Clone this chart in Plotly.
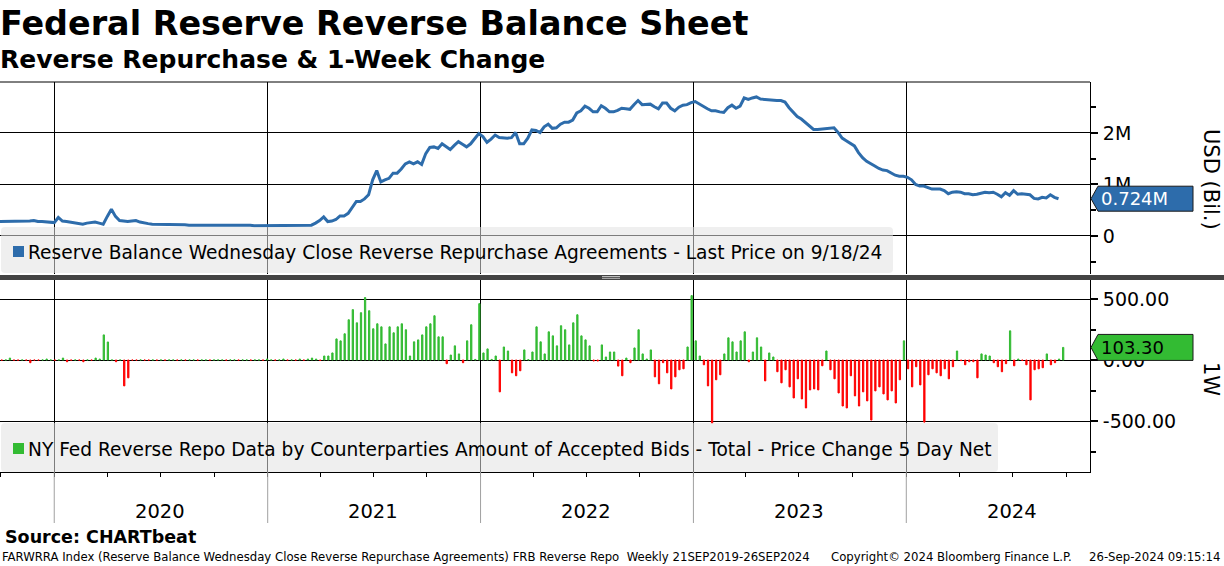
import plotly.graph_objects as go
import pandas as pd

# ---------------- data ----------------
line_dates = pd.date_range("2019-09-25", periods=261, freq="7D")
bar_dates = pd.date_range("2019-10-03", periods=261, freq="7D")

# Reserve balance reverse repo (millions of USD bil. -> "M")
line_vals = [
    0.28, 0.28, 0.29, 0.29, 0.28, 0.28, 0.28, 0.29, 0.29, 0.30,
    0.28, 0.28, 0.27, 0.27, 0.26, 0.36, 0.29, 0.28, 0.27, 0.26,
    0.25, 0.23, 0.25, 0.26, 0.27, 0.25, 0.23, 0.38, 0.52, 0.38,
    0.30, 0.29, 0.28, 0.29, 0.30, 0.27, 0.25, 0.24, 0.23, 0.23,
    0.23, 0.23, 0.22, 0.23, 0.23, 0.22, 0.22, 0.21, 0.21, 0.21,
    0.21, 0.21, 0.21, 0.21, 0.21, 0.22, 0.21, 0.21, 0.22, 0.21,
    0.21, 0.22, 0.21, 0.20, 0.20, 0.21, 0.21, 0.21, 0.21, 0.21,
    0.21, 0.21, 0.21, 0.21, 0.21, 0.21, 0.21, 0.21, 0.25, 0.30,
    0.37, 0.28, 0.29, 0.32, 0.39, 0.39, 0.44, 0.55, 0.67, 0.67,
    0.72, 0.80, 1.09, 1.27, 1.05, 1.09, 1.12, 1.22, 1.22, 1.30,
    1.40, 1.44, 1.40, 1.44, 1.39, 1.60, 1.72, 1.73, 1.70, 1.79,
    1.73, 1.68, 1.76, 1.83, 1.78, 1.73, 1.79, 1.90, 1.99, 1.93,
    1.82, 1.88, 1.96, 1.91, 1.90, 1.90, 1.91, 2.01, 1.79, 1.79,
    1.90, 2.06, 2.05, 2.01, 2.12, 2.17, 2.09, 2.10, 2.17, 2.21,
    2.21, 2.25, 2.39, 2.43, 2.52, 2.48, 2.41, 2.41, 2.53, 2.48,
    2.41, 2.41, 2.44, 2.48, 2.47, 2.46, 2.55, 2.63, 2.55, 2.56,
    2.56, 2.51, 2.47, 2.58, 2.58, 2.48, 2.43, 2.50, 2.54, 2.55,
    2.59, 2.61, 2.56, 2.52, 2.47, 2.43, 2.43, 2.41, 2.40, 2.49,
    2.54, 2.48, 2.52, 2.68, 2.65, 2.68, 2.70, 2.66, 2.65, 2.64,
    2.64, 2.63, 2.63, 2.60, 2.49, 2.40, 2.32, 2.27, 2.20, 2.13,
    2.07, 2.07, 2.08, 2.09, 2.10, 2.10, 2.01, 1.90, 1.85, 1.80,
    1.75, 1.62, 1.52, 1.45, 1.41, 1.36, 1.31, 1.28, 1.27, 1.23,
    1.18, 1.16, 1.16, 1.14, 1.09, 1.00, 0.97, 0.97, 0.94, 0.91,
    0.91, 0.91, 0.88, 0.82, 0.85, 0.86, 0.85, 0.82, 0.82, 0.80,
    0.81, 0.83, 0.85, 0.84, 0.85, 0.81, 0.76, 0.84, 0.79, 0.88,
    0.81, 0.82, 0.81, 0.80, 0.73, 0.72, 0.75, 0.74, 0.80, 0.75, 0.724,
]

# NY Fed reverse repo accepted bids, 5 day net change
bar_vals = [
    -1, 1, 16, -1, -1, 1, -1, -22, -1, -1,
    1, 8, 1, -1, 1, 16, -14, -1, 1, -1,
    -14, 1, -1, 16, 8, 206, 148, 1, -14, 1,
    -212, -146, -1, -1, 1, -1, -1, 1, -1, 1,
    -1, 1, 1, -1, 1, -1, 1, 1, -1, 1,
    1, -1, 1, 1, 1, -1, 1, 1, -1, 1,
    1, -1, 1, 1, -1, 8, 1, -1, 1, 8,
    -1, 1, -1, 8, -1, 8, 16, 8, -3, 33,
    33, 58, 173, 157, 215, 330, 413, 305, 388, 512,
    404, 256, 297, 272, 132, 272, 223, 272, 297, 248,
    33, 149, 165, 206, 272, 297, 363, 190, 190, -30,
    41, 116, 50, -22, 157, 289, 5, 462, 58, 91,
    5, 33, -261, 107, 74, -105, -129, -88, 83, 3,
    66, 272, 149, 50, 231, 198, 116, 281, 248, 124,
    305, 371, 198, 165, 116, -8, -8, 124, 25, 66,
    66, -50, -129, 16, -22, 99, 248, 50, 8, 83,
    -138, -195, -22, -105, -237, -138, -80, -72, 107, 528,
    157, 33, -39, -212, -517, -162, -121, 50, 182, 149,
    66, 157, 231, -14, 66, 182, 107, -171, 58, 25,
    -96, -187, -80, -220, -311, -154, -319, -393, -245, -237,
    -245, -47, 74, -80, -154, -270, -377, -393, -129, -294,
    -377, -261, -335, -492, -253, -220, -278, -327, -253, -352,
    -162, 157, -72, -220, -55, -204, -509, -121, -72, -105,
    -129, -72, -154, -55, 74, -5, -39, -14, -14, -146,
    50, 41, 33, -22, -55, -96, -30, 239, -47, 8,
    -3, -39, -327, -80, -72, -63, 50, -39, -22, 8, 103.3,
]

year_labels = ["2020", "2021", "2022", "2023", "2024"]
year_starts = ["2020-01-01", "2021-01-01", "2022-01-01", "2023-01-01", "2024-01-01"]
year_mids = ["2020-07-01", "2021-07-01", "2022-07-01", "2023-07-01", "2024-07-01"]

top_tickvals = [0, 1, 2]
top_ticktext = ["0", "1M", "2M"]
bot_tickvals = [-500, 0, 500]
bot_ticktext = ["-500.00", "0.00", "500.00"]

last_line = line_vals[-1]
last_bar = bar_vals[-1]

# ---------------- style ----------------
W, H = 1224, 566
L, R, T, B = 0, 134, 82, 94
PW, PH = W - L - R, H - T - B
BLUE = "#2d6cab"
GREEN = "#33bb33"
RED = "#ff0000"
FONT = "DejaVu Sans"


def px(x):
    return (x - L) / PW


def py(y):
    return (H - B - y) / PH


def rrect(x0, y0, x1, y1, r=4):
    rx, ry = r / PW, r / PH
    X0, X1 = px(x0), px(x1)
    Y0, Y1 = py(y1), py(y0)  # bottom, top
    return (f"M {X0+rx},{Y0} L {X1-rx},{Y0} Q {X1},{Y0} {X1},{Y0+ry} "
            f"L {X1},{Y1-ry} Q {X1},{Y1} {X1-rx},{Y1} L {X0+rx},{Y1} "
            f"Q {X0},{Y1} {X0},{Y1-ry} L {X0},{Y0+ry} Q {X0},{Y0} {X0+rx},{Y0} Z")


bar_colors = [GREEN if v >= 0 else RED for v in bar_vals]

fig = go.Figure()
fig.add_trace(go.Scatter(
    x=line_dates, y=line_vals, mode="lines", xaxis="x", yaxis="y",
    line=dict(color=BLUE, width=3), hoverinfo="skip"))
fig.add_trace(go.Bar(
    x=bar_dates, y=bar_vals, xaxis="x2", yaxis="y2", width=1.9e8,
    marker=dict(color=bar_colors, line=dict(color=bar_colors, width=1)),
    hoverinfo="skip"))

xrange = ["2019-09-30", "2024-11-11"]
top_dom = [py(274), 1]
bot_dom = [0, py(280)]

common_x = dict(range=xrange, type="date", showgrid=True, gridcolor="black",
                gridwidth=1, dtick="M12", tick0="2020-01-01",
                showticklabels=False, zeroline=False)

fig.update_layout(
    width=W, height=H,
    margin=dict(l=L, r=R, t=T, b=B),
    paper_bgcolor="white", plot_bgcolor="white",
    showlegend=False,
    font=dict(family=FONT, color="black"),
    xaxis=dict(domain=[0, 1], anchor="y", ticks="", **common_x),
    xaxis2=dict(domain=[0, 1], anchor="y2", ticks="outside", ticklen=4,
                tickcolor="black", showline=True, linecolor="black", linewidth=1,
                minor=dict(dtick="M3", ticks="outside", ticklen=4, tickcolor="black"),
                **common_x),
    yaxis=dict(domain=top_dom, anchor="x", side="right", range=[-0.738, 2.99],
               tickvals=top_tickvals, ticktext=top_ticktext,
               showgrid=True, gridcolor="black", gridwidth=1, zeroline=False,
               showline=True, linecolor="black", linewidth=1,
               ticks="outside", ticklen=7, tickwidth=2, tickcolor="black",
               ticklabelstandoff=1,
               minor=dict(tickvals=[-0.5, 0.5, 1.5, 2.5], ticks="outside",
                          ticklen=5, tickcolor="black", showgrid=False),
               tickfont=dict(size=19, family=FONT, color="black")),
    yaxis2=dict(domain=bot_dom, anchor="x2", side="right", range=[-918, 656],
                tickvals=bot_tickvals, ticktext=bot_ticktext,
                showgrid=True, gridcolor="black", gridwidth=1, zeroline=False,
                showline=True, linecolor="black", linewidth=1,
                ticks="outside", ticklen=7, tickwidth=2, tickcolor="black",
                ticklabelstandoff=1,
                minor=dict(tickvals=[-750, -250, 250], ticks="outside",
                           ticklen=5, tickcolor="black", showgrid=False),
                tickfont=dict(size=19, family=FONT, color="black")),
)

shapes = []
# top border of the chart
shapes.append(dict(type="line", xref="paper", yref="paper", x0=0, x1=1, y0=1, y1=1,
                   line=dict(color="black", width=1)))
# year lines extending into the label area
for ys in year_starts:
    shapes.append(dict(type="line", xref="x2", yref="paper", x0=ys, x1=ys,
                       y0=py(472), y1=py(523), line=dict(color="#a0a0a0", width=1)))
# legend boxes
shapes.append(dict(type="path", xref="paper", yref="paper", path=rrect(1, 227, 893, 273),
                   fillcolor="#e2e2e2", opacity=0.55, line=dict(width=0), layer="above"))
shapes.append(dict(type="rect", xref="paper", yref="paper", x0=px(13), x1=px(24),
                   y0=py(257), y1=py(246), fillcolor=BLUE, line=dict(width=0), layer="above"))
shapes.append(dict(type="path", xref="paper", yref="paper", path=rrect(1, 423, 998, 472),
                   fillcolor="#e2e2e2", opacity=0.55, line=dict(width=0), layer="above"))
shapes.append(dict(type="rect", xref="paper", yref="paper", x0=px(13), x1=px(24),
                   y0=py(454), y1=py(443), fillcolor=GREEN, line=dict(width=0), layer="above"))
# separator between panels
shapes.append(dict(type="rect", xref="paper", yref="paper", x0=0, x1=px(W),
                   y0=py(280), y1=py(275), fillcolor="#444444", line=dict(width=0), layer="above"))
for yy in (276.5, 278.3):
    shapes.append(dict(type="line", xref="paper", yref="paper", x0=px(602), x1=px(620),
                       y0=py(yy), y1=py(yy), line=dict(color="#bdbdbd", width=1), layer="above"))
# last value tags
h1 = 12.5 / 51.5
shapes.append(dict(type="path", xref="paper", yref="y",
                   path=(f"M {px(1091)},{last_line} L {px(1098)},{last_line+h1} "
                         f"L {px(1193)},{last_line+h1} L {px(1193)},{last_line-h1} "
                         f"L {px(1098)},{last_line-h1} Z"),
                   fillcolor=BLUE, line=dict(color="#1a1a1a", width=1), layer="above"))
h2 = 13 / 61 * 500
shapes.append(dict(type="path", xref="paper", yref="y2",
                   path=(f"M {px(1091)},{last_bar} L {px(1098)},{last_bar+h2} "
                         f"L {px(1193)},{last_bar+h2} L {px(1193)},{last_bar-h2} "
                         f"L {px(1098)},{last_bar-h2} Z"),
                   fillcolor=GREEN, line=dict(color="#1a1a1a", width=1), layer="above"))
fig.update_layout(shapes=shapes)

ann = []


def add_text(text, x, y, size, bold=False, anchor="left", color="black", family=FONT,
             angle=0, xref="paper", yref="paper"):
    ann.append(dict(text=f"<b>{text}</b>" if bold else text, x=x, y=y, xref=xref, yref=yref,
                    xanchor=anchor, yanchor="middle", showarrow=False, textangle=angle,
                    font=dict(size=size, color=color, family=family)))


add_text("Federal Reserve Reverse Balance Sheet", px(-2), py(23), 33.4, bold=True)
add_text("Reverse Repurchase &amp; 1-Week Change", px(-2), py(60), 25, bold=True)
add_text("Source: CHARTbeat", px(3), py(537), 17.5, bold=True)
FOOT = "DejaVu Sans Condensed, Liberation Sans Narrow, DejaVu Sans"
add_text("FARWRRA Index (Reserve Balance Wednesday Close Reverse Repurchase Agreements) FRB Reverse Repo  Weekly 21SEP2019-26SEP2024",
         px(0), py(556), 13, family=FOOT)
add_text("Copyright© 2024 Bloomberg Finance L.P.", px(829), py(556), 13, family=FOOT)
add_text("26-Sep-2024 09:15:14", px(1222), py(556), 13, family=FOOT, anchor="right")
add_text("Reserve Balance Wednesday Close Reverse Repurchase Agreements - Last Price on 9/18/24",
         px(26), py(252), 18.6)
add_text("NY Fed Reverse Repo Data by Counterparties Amount of Accepted Bids - Total - Price Change 5 Day Net",
         px(26), py(449), 18.6)
add_text(f"{last_line:.3f}M", px(1099), last_line, 18, color="white", yref="y")
add_text(f"{last_bar:.2f}", px(1099), last_bar, 18, color="black", yref="y2")
add_text("USD (Bil.)", px(1211), py(179), 21, anchor="center", angle=90)
add_text("1W", px(1211), py(379), 21, anchor="center", angle=90)
for lab, mid in zip(year_labels, year_mids):
    ann.append(dict(text=lab, x=mid, xref="x2", y=py(511), yref="paper", xanchor="center",
                    yanchor="middle", showarrow=False, font=dict(size=19.5, family=FONT, color="black")))

fig.update_layout(annotations=ann)
fig.write_html("out.html", config={"displayModeBar": False},
               post_script="document.body.style.margin='0';document.body.style.overflow='hidden';")
